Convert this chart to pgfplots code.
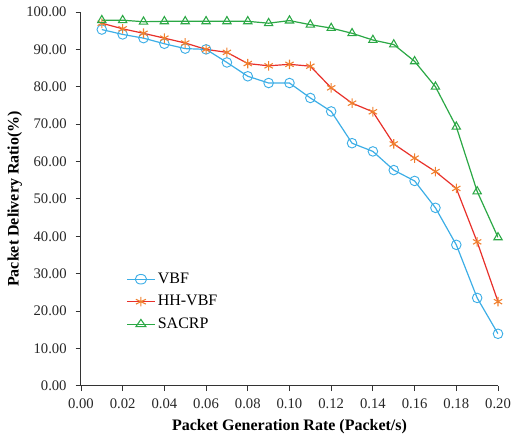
\documentclass[border=0pt]{standalone}
\usepackage{fontspec}
\setmainfont{Liberation Serif}
\usepackage{pgfplots}
\pgfplotsset{compat=1.18}

\definecolor{vbf}{HTML}{3DAEE6}
\definecolor{hhline}{HTML}{E8302A}
\definecolor{hhmark}{HTML}{F0802E}
\definecolor{sacrp}{HTML}{2BA845}

\begin{document}
\begin{tikzpicture}
\begin{axis}[
    scale only axis,
    width=313pt,
    height=280.5pt,
    xmin=0, xmax=0.2,
    ymin=0, ymax=100,
    xtick={0,0.02,...,0.201},
    ytick={0,10,...,100},
    axis lines=left,
    axis line style={-, line width=0.7pt, black!80},
    tick style={black!80, line width=0.6pt},
    tick align=outside,
    major tick length=4pt,
    xticklabel style={yshift=-2pt, /pgf/number format/.cd, fixed, fixed zerofill, precision=2},
    yticklabel style={xshift=-3pt, /pgf/number format/.cd, fixed, fixed zerofill, precision=2},
    /pgf/number format/assume math mode=true,
    scaled x ticks=false,
    ticklabel style={font=\fontsize{11}{12}\selectfont, text=black!85},
    xlabel={\textbf{Packet Generation Rate (Packet/s)}},
    ylabel={\textbf{Packet Delivery Ratio(\%)}},
    label style={font=\fontsize{12}{14}\selectfont},
    xlabel style={yshift=-1pt},
    ylabel style={yshift=-4pt},
    legend style={draw=none, fill=none, at={(0.105,0.314)}, anchor=north west,
        font=\fontsize{12}{14}\selectfont, row sep=3.5pt, inner sep=1pt},
    legend image post style={xscale=1.2},
    legend cell align=left,
    line width=0.9pt,
    mark size=3.6pt,
]
\addplot[color=vbf, mark=o, mark options={line width=0.7pt, fill=none}] coordinates {
    (0.01,95.3) (0.02,94.0) (0.03,93.0) (0.04,91.5) (0.05,90.2)
    (0.06,90.0) (0.07,86.5) (0.08,82.8) (0.09,81.0) (0.10,81.0)
    (0.11,77.0) (0.12,73.4) (0.13,64.9) (0.14,62.7) (0.15,57.7)
    (0.16,54.8) (0.17,47.6) (0.18,37.7) (0.19,23.5) (0.20,13.9)
};
\addlegendentry{VBF}
\addplot[color=hhline, mark=asterisk, mark options={color=hhmark, line width=0.8pt}] coordinates {
    (0.01,97.0) (0.02,95.5) (0.03,94.3) (0.04,93.0) (0.05,91.7)
    (0.06,90.0) (0.07,89.2) (0.08,86.2) (0.09,85.6) (0.10,86.0)
    (0.11,85.5) (0.12,79.7) (0.13,75.6) (0.14,73.3) (0.15,64.7)
    (0.16,60.9) (0.17,57.3) (0.18,52.8) (0.19,38.5) (0.20,22.5)
};
\addlegendentry{HH-VBF}
\addplot[color=sacrp, mark=triangle, mark options={line width=0.8pt, fill=none}] coordinates {
    (0.01,97.8) (0.02,97.8) (0.03,97.4) (0.04,97.5) (0.05,97.5)
    (0.06,97.5) (0.07,97.5) (0.08,97.5) (0.09,97.0) (0.10,97.7)
    (0.11,96.6) (0.12,95.7) (0.13,94.3) (0.14,92.5) (0.15,91.3)
    (0.16,86.8) (0.17,80.0) (0.18,69.3) (0.19,52.0) (0.20,39.7)
};
\addlegendentry{SACRP}
\end{axis}
\pgfresetboundingbox
\path ([xshift=-60.75pt,yshift=-42.75pt]current axis.south west)
    rectangle ([xshift=10.5pt,yshift=9pt]current axis.north east);
\end{tikzpicture}
\end{document}
